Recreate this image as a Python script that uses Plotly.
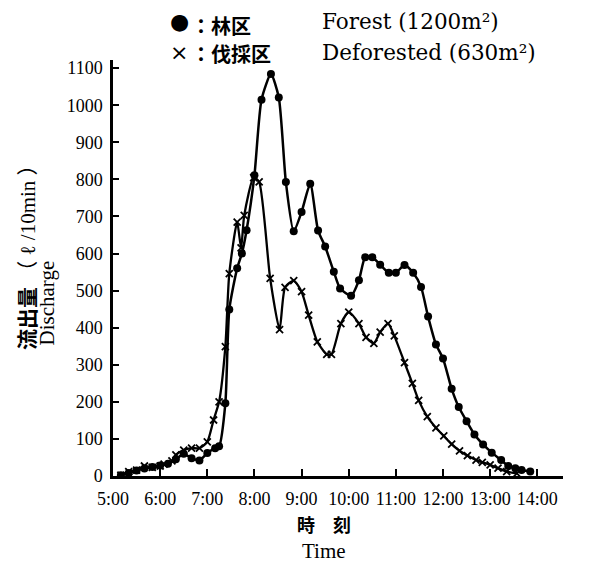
import plotly.graph_objects as go

# ---- data ----
forest_time = ["5:10", "5:20", "5:30", "5:40", "5:50", "6:00", "6:10", "6:20", "6:30", "6:40",
               "6:50", "7:00", "7:10", "7:15", "7:23", "7:28", "7:38", "7:44", "7:50", "8:00",
               "8:09", "8:21", "8:31", "8:40", "8:50", "9:00", "9:11", "9:21", "9:30", "9:41",
               "9:49", "10:03", "10:13", "10:21", "10:30", "10:40", "10:51", "11:00", "11:11", "11:22",
               "11:32", "11:41", "11:51", "12:00", "12:11", "12:20", "12:30", "12:40", "12:51", "13:02",
               "13:14", "13:23", "13:32", "13:40", "13:51"]
forest_q = [2, 8, 15, 20, 24, 28, 33, 45, 60, 48,
            42, 62, 75, 80, 196, 449, 560, 600, 663, 811,
            1015, 1084, 1021, 793, 660, 712, 788, 662, 619, 551,
            506, 486, 528, 590, 590, 570, 548, 548, 569, 548,
            510, 430, 355, 317, 235, 186, 148, 112, 85, 63,
            43, 27, 21, 16, 12]

defor_time = ["5:10", "5:20", "5:30", "5:40", "5:50", "6:00", "6:05", "6:15", "6:20", "6:30",
              "6:40", "6:50", "7:00", "7:08", "7:15", "7:23", "7:28", "7:38", "7:43", "7:47",
              "7:59", "8:06", "8:20", "8:32", "8:39", "8:50", "9:00", "9:09", "9:20", "9:32",
              "9:38", "9:50", "10:00", "10:13", "10:22", "10:32", "10:40", "10:50", "10:58", "11:11",
              "11:21", "11:29", "11:40", "11:51", "12:01", "12:11", "12:21", "12:31", "12:42", "12:50",
              "13:00", "13:10", "13:21", "13:34"]
defor_q = [2, 12, 16, 27, 23, 27, 32, 41, 57, 70,
           75, 75, 92, 151, 200, 349, 546, 685, 615, 703,
           805, 793, 533, 395, 509, 527, 497, 434, 362, 328,
           328, 411, 442, 411, 374, 358, 388, 411, 378, 306,
           250, 204, 160, 130, 108, 86, 68, 55, 43, 37,
           30, 21, 12, 7]

tick_hours = [5, 6, 7, 8, 9, 10, 11, 12, 13, 14]
tick_text = ["5:00", "6:00", "7:00", "8:00", "9:00", "10:00", "11:00", "12:00", "13:00", "14:00"]
y_ticks = [0, 100, 200, 300, 400, 500, 600, 700, 800, 900, 1000, 1100]


def to_hours(s):
    h, m = s.split(":")
    return int(h) + int(m) / 60.0


fx = [to_hours(t) for t in forest_time]
dx = [to_hours(t) for t in defor_time]

# page body has an 8px margin: figure is drawn 8px smaller and positions are in window pixels
OFF = 8
WIN_W, WIN_H = 592, 565
PL, PR, PT, PB = 113, 563, 60, 476          # plot rectangle in window pixels
W, H = WIN_W - OFF, WIN_H - OFF
ML, MT = PL - OFF, PT - OFF
MR, MB = W - (PR - OFF), H - (PB - OFF)
PW, PH = PR - PL, PB - PT

SERIF = "Liberation Serif, Noto Sans CJK JP, serif"
WIDE_SERIF = "DejaVu Serif, Liberation Serif, serif"
CJK = "Noto Sans CJK JP"

fig = go.Figure()
fig.add_trace(go.Scatter(
    x=fx, y=forest_q, mode="lines+markers", name="林区 Forest",
    line=dict(color="black", width=2.5, shape="spline", smoothing=0.6),
    marker=dict(symbol="circle", size=8, color="black"),
))
fig.add_trace(go.Scatter(
    x=dx, y=defor_q, mode="lines+markers", name="伐採区 Deforested",
    line=dict(color="black", width=2.3, shape="spline", smoothing=0.6),
    marker=dict(symbol="x-thin", size=7, line=dict(color="black", width=1.8)),
))


def px(xp):
    return (xp - PL) / PW


def py(yp):
    return (PB - yp) / PH


def note(x, y, text, size, family=SERIF, xa="left", ya="middle", **kw):
    return dict(x=px(x), y=py(y), xref="paper", yref="paper", text=text,
                showarrow=False, xanchor=xa, yanchor=ya,
                font=dict(family=family, size=size, color="black"), **kw)


ann = []
# legend block at the top
ann.append(note(168, 21, "●", 22, family="DejaVu Sans"))
ann.append(note(189, 8.5, "<b>：林区</b>", 20, family=CJK, ya="top"))
ann.append(note(320, 21, "Forest (1200m²)", 21.5, family=WIDE_SERIF))
ann.append(note(168, 52, "×", 22, family="DejaVu Sans"))
ann.append(note(189, 53.5, "<b>：伐採区</b>", 20, family=CJK))
ann.append(note(320, 52, "Deforested (630m²)", 21.5, family=WIDE_SERIF))

# y-axis title (rotated, two lines, starting at the bottom)
ann.append(note(28, 352, "<b>流出量</b> （ ℓ /10min ）", 21,
                xa="center", ya="bottom", textangle=-90))
ann.append(note(46, 348, "Discharge", 21, xa="center", ya="bottom", textangle=-90))
# x-axis title
ann.append(note(324, 524, "<b>時　刻</b>", 18, family=CJK, xa="center"))
ann.append(note(324, 551, "Time", 21, xa="center"))

fig.update_layout(
    width=W, height=H,
    margin=dict(l=ML, r=MR, t=MT, b=MB),
    paper_bgcolor="white", plot_bgcolor="white",
    showlegend=False,
    annotations=ann,
    font=dict(family=SERIF, color="black"),
)
fig.update_xaxes(
    range=[5, 5 + (PR - 112) / 47.25], tickvals=tick_hours, ticktext=tick_text,
    showgrid=False, zeroline=False, showline=True, linecolor="black", linewidth=2.5,
    ticks="inside", ticklen=7, tickwidth=2, tickcolor="black", ticklabelstandoff=5,
    tickfont=dict(family=SERIF, size=18, color="black"),
)
fig.update_yaxes(
    range=[0, 1122], tickvals=y_ticks,
    showgrid=False, zeroline=False, showline=True, linecolor="black", linewidth=2.5,
    ticks="inside", ticklen=6, tickwidth=2, tickcolor="black", ticklabelstandoff=4,
    tickfont=dict(family=SERIF, size=18, color="black"),
)

fig.write_html("out.html")
